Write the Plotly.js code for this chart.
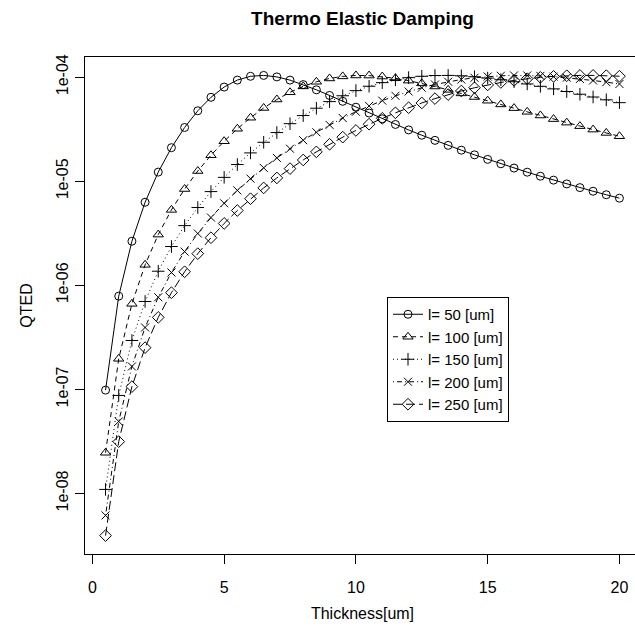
<!DOCTYPE html>
<html>
<head>
<meta charset="utf-8">
<script src="https://cdn.plot.ly/plotly-3.0.1.min.js"></script>
<style>
html,body{margin:0;padding:0;overflow:hidden;background:#fff;}
#chart{width:641px;height:633px;}
</style>
</head>
<body>
<div id="chart"></div>
<script>
// Thickness [um]
var thickness = [0.5,1,1.5,2,2.5,3,3.5,4,4.5,5,5.5,6,6.5,7,7.5,8,8.5,9,9.5,10,
  10.5,11,11.5,12,12.5,13,13.5,14,14.5,15,15.5,16,16.5,17,17.5,18,18.5,19,19.5,20];

var seriesNames = ['l= 50 [um]','l= 100 [um]','l= 150 [um]','l= 200 [um]','l= 250 [um]'];

var qted50 = [9.83e-8,7.86e-7,2.65e-6,6.28e-6,1.224e-5,2.10e-5,3.284e-5,4.753e-5,6.404e-5,8.033e-5,
  9.373e-5,1.019e-4,1.0393e-4,1.006e-4,9.363e-5,8.484e-5,7.559e-5,6.671e-5,5.861e-5,5.144e-5,
  4.518e-5,3.978e-5,3.512e-5,3.112e-5,2.767e-5,2.469e-5,2.211e-5,1.987e-5,1.792e-5,1.621e-5,
  1.471e-5,1.338e-5,1.221e-5,1.117e-5,1.024e-5,9.42e-6,8.68e-6,8.01e-6,7.41e-6,6.87e-6];

var qted100 = [2.457e-8,1.965e-7,6.633e-7,1.572e-6,3.070e-6,5.303e-6,8.412e-6,1.2532e-5,1.7776e-5,2.4228e-5,
  3.191e-5,4.075e-5,5.057e-5,6.100e-5,7.154e-5,8.154e-5,9.029e-5,9.717e-5,1.0173e-4,1.0380e-4,
  1.0358e-4,1.0133e-4,9.752e-5,9.264e-5,8.713e-5,8.133e-5,7.550e-5,6.984e-5,6.444e-5,5.939e-5,
  5.470e-5,5.038e-5,4.643e-5,4.282e-5,3.953e-5,3.654e-5,3.382e-5,3.135e-5,2.910e-5,2.705e-5];

var qted150 = [1.092e-8,8.734e-8,2.948e-7,6.987e-7,1.3647e-6,2.358e-6,3.744e-6,5.586e-6,7.948e-6,1.0888e-5,
  1.4461e-5,1.8712e-5,2.367e-5,2.935e-5,3.573e-5,4.274e-5,5.029e-5,5.822e-5,6.629e-5,7.425e-5,
  8.179e-5,8.858e-5,9.435e-5,9.888e-5,1.0199e-4,1.0367e-4,1.0394e-4,1.0296e-4,1.0091e-4,9.798e-5,
  9.441e-5,9.038e-5,8.608e-5,8.164e-5,7.718e-5,7.280e-5,6.854e-5,6.445e-5,6.056e-5,5.688e-5];

var qted200 = [6.141e-9,4.913e-8,1.6582e-7,3.930e-7,7.677e-7,1.3265e-6,2.106e-6,3.144e-6,4.475e-6,6.136e-6,
  8.162e-6,1.0585e-5,1.3436e-5,1.6742e-5,2.052e-5,2.479e-5,2.955e-5,3.479e-5,4.047e-5,4.654e-5,
  5.292e-5,5.951e-5,6.618e-5,7.278e-5,7.913e-5,8.504e-5,9.036e-5,9.494e-5,9.864e-5,1.0140e-4,
  1.0314e-4,1.0394e-4,1.0382e-4,1.0286e-4,1.0117e-4,9.888e-5,9.611e-5,9.297e-5,8.956e-5,8.599e-5];

var qted250 = [3.930e-9,3.144e-8,1.0612e-7,2.5155e-7,4.913e-7,8.490e-7,1.3481e-6,2.0122e-6,2.865e-6,3.929e-6,
  5.228e-6,6.785e-6,8.620e-6,1.0756e-5,1.3212e-5,1.6003e-5,1.9145e-5,2.265e-5,2.651e-5,3.074e-5,
  3.532e-5,4.022e-5,4.542e-5,5.086e-5,5.649e-5,6.222e-5,6.796e-5,7.362e-5,7.907e-5,8.420e-5,
  8.891e-5,9.311e-5,9.667e-5,9.957e-5,1.0175e-4,1.0319e-4,1.0390e-4,1.0393e-4,1.0333e-4,1.0215e-4];

var yTickVals = [1e-8,1e-7,1e-6,1e-5,1e-4];
var yTickText = ['1e-08','1e-07','1e-06','1e-05','1e-04'];
var xTickVals = [0,5,10,15,20];

var allSeries = [qted50,qted100,qted150,qted200,qted250];
var symbols = ['circle-open','triangle-up-open','cross-thin-open','x-thin-open','diamond-open'];
var sizes = [8,9,9,8,9];
var dashes = ['solid','5px,4px','1px,3px','1px,3px,5px,3px','9px,4px'];

var traces = allSeries.map(function(ys,i){
  return {
    x: thickness, y: ys, name: seriesNames[i],
    type: 'scatter', mode: 'lines+markers',
    line: {color:'#000', width:1, dash: dashes[i]},
    marker: {symbol: symbols[i], size: sizes[i], color:'#000', line:{color:'#000', width:1}}
  };
});

var font = 'Liberation Sans, Arial, Helvetica, sans-serif';
var layout = {
  width: 641, height: 633,
  margin: {l:85, r:1, t:57, b:79},
  paper_bgcolor:'#fff', plot_bgcolor:'#fff',
  font: {family: font, size: 16, color:'#000'},
  showlegend: true,
  title: {text:'<b>Thermo Elastic Damping</b>', font:{family:font, size:19, color:'#000'},
    x:0.5, xref:'paper', y:1-18/633, yref:'container', yanchor:'middle'},
  xaxis: {
    range:[-0.28,20.78], tickvals:xTickVals, ticks:'outside', ticklen:9, tickwidth:1, tickcolor:'#000',
    showline:true, mirror:true, linecolor:'#000', linewidth:1, showgrid:false, zeroline:false,
    ticklabelstandoff: 10,
    tickfont:{size:16},
    title:{text:'Thickness[um]', font:{size:16}, standoff:12}
  },
  yaxis: {
    type:'log', range:[-8.5825,-3.8063], tickvals:yTickVals, ticktext:yTickText, tickangle:-90,
    ticks:'outside', ticklen:9, tickwidth:1, tickcolor:'#000',
    showline:true, mirror:true, linecolor:'#000', linewidth:1, showgrid:false, zeroline:false,
    ticklabelstandoff: 1,
    tickfont:{size:16},
    title:{text:'QTED', font:{size:16}, standoff:16}
  },
  legend: {
    x:(387-85)/555, xanchor:'left', y:(556-299)/497, yanchor:'top',
    bordercolor:'#000', borderwidth:1, bgcolor:'#fff',
    font:{size:15, family:font}
  }
};

Plotly.newPlot('chart', traces, layout, {displayModeBar:false, staticPlot:true});
</script>
</body>
</html>
